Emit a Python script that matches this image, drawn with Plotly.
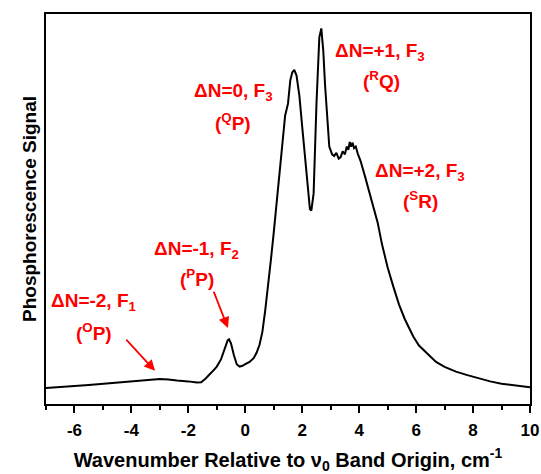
import plotly.graph_objects as go

wavenumber = [-7.0, -6.5, -6.0, -5.5, -5.0, -4.5, -4.0, -3.5, -3.0, -2.7, -2.4, -2.0, -1.7, -1.55,
              -1.4, -1.2, -1.0, -0.85, -0.72, -0.62, -0.57, -0.5, -0.4, -0.3, -0.2, -0.1, 0.0,
              0.15, 0.3, 0.4, 0.5, 0.6, 0.7, 0.8, 0.9, 1.0, 1.1, 1.2, 1.3, 1.4, 1.5, 1.58, 1.65,
              1.72, 1.8, 1.9, 2.0, 2.1, 2.2, 2.27, 2.32, 2.4, 2.5, 2.6, 2.67, 2.74, 2.8, 2.87,
              2.95, 3.05, 3.12, 3.2, 3.28, 3.35, 3.42, 3.5, 3.56, 3.62, 3.67, 3.72, 3.77, 3.82,
              3.88, 3.95, 4.05, 4.2, 4.35, 4.5, 4.65, 4.8, 5.0, 5.2, 5.4, 5.6, 5.9, 6.1, 6.4, 6.7,
              7.0, 7.4, 7.8, 8.2, 8.6, 9.0, 9.5, 10.0]
signal = [0.041, 0.043, 0.046, 0.049, 0.052, 0.055, 0.058, 0.062, 0.064, 0.063, 0.060, 0.058,
          0.055, 0.056, 0.065, 0.080, 0.096, 0.115, 0.140, 0.163, 0.166, 0.155, 0.125, 0.102,
          0.096, 0.098, 0.102, 0.108, 0.118, 0.132, 0.152, 0.185, 0.240, 0.300, 0.370, 0.440,
          0.515, 0.590, 0.665, 0.740, 0.770, 0.830, 0.850, 0.857, 0.842, 0.790, 0.710, 0.625,
          0.545, 0.500, 0.496, 0.540, 0.770, 0.940, 0.963, 0.905, 0.820, 0.730, 0.660, 0.640,
          0.636, 0.644, 0.629, 0.633, 0.648, 0.640, 0.660, 0.652, 0.672, 0.660, 0.670, 0.656,
          0.660, 0.642, 0.623, 0.585, 0.545, 0.506, 0.465, 0.410, 0.350, 0.301, 0.255, 0.218,
          0.173, 0.150, 0.128, 0.108, 0.095, 0.083, 0.074, 0.065, 0.058, 0.052, 0.047, 0.043]

tick_vals = [-6, -4, -2, 0, 2, 4, 6, 8, 10]
tick_text = ["-6", "-4", "-2", "0", "2", "4", "6", "8", "10"]

labels = ["ΔN=0, F<sub>3</sub>", "(<sup>Q</sup>P)",
          "ΔN=+1, F<sub>3</sub>", "(<sup>R</sup>Q)",
          "ΔN=+2, F<sub>3</sub>", "(<sup>S</sup>R)",
          "ΔN=-1, F<sub>2</sub>", "(<sup>P</sup>P)",
          "ΔN=-2, F<sub>1</sub>", "(<sup>O</sup>P)"]
label_x = [-0.40, -0.43, 4.73, 4.77, 6.14, 6.14, -1.70, -1.70, -5.31, -5.31]
label_y = [0.80, 0.723, 0.903, 0.831, 0.595, 0.523, 0.395, 0.323, 0.262, 0.185]

# arrows: (head_x, head_y, tail_x, tail_y)
arrows = [(-0.61, 0.195, -1.13, 0.292), (-3.17, 0.085, -4.23, 0.169)]

FONT = "Liberation Sans, Arial, sans-serif"

fig = go.Figure()
fig.add_trace(go.Scatter(x=wavenumber, y=signal, mode="lines",
                         line=dict(color="black", width=2), showlegend=False))

for t, x, y in zip(labels, label_x, label_y):
    fig.add_annotation(x=x, y=y, xref="x", yref="y", text=t, showarrow=False,
                       font=dict(family=FONT, size=19, color="#ff0000", weight="bold"))

for hx, hy, tx, ty in arrows:
    fig.add_annotation(x=hx, y=hy, ax=tx, ay=ty, xref="x", yref="y", axref="x", ayref="y",
                       text="", showarrow=True, arrowhead=2, arrowsize=1.2, arrowwidth=1.8,
                       arrowcolor="#ff0000")

fig.update_layout(
    width=541, height=474,
    margin=dict(l=46, r=11, t=14, b=70),
    paper_bgcolor="white", plot_bgcolor="white",
    font=dict(family=FONT, color="black"),
    xaxis=dict(range=[-7, 10], tickvals=tick_vals, ticktext=tick_text, automargin=False,
               ticks="outside", ticklen=7, tickwidth=1.5, tickcolor="black",
               ticklabelstandoff=3,
               minor=dict(ticks="outside", dtick=1, tick0=-7, ticklen=4, tickwidth=1.5, tickcolor="black"),
               showline=True, linecolor="black", linewidth=1.5, mirror=True,
               showgrid=False, zeroline=False,
               tickfont=dict(family=FONT, size=17, color="black", weight="bold"),
               title=dict(text="Wavenumber Relative to ν<sub>0</sub> Band Origin, cm<sup>-1</sup>",
                          font=dict(family=FONT, size=20, color="black", weight="bold"),
                          standoff=20)),
    yaxis=dict(range=[0, 1], showticklabels=False, ticks="", automargin=False,
               showline=True, linecolor="black", linewidth=1.5, mirror=True,
               showgrid=False, zeroline=False,
               title=dict(text="Phosphorescence Signal",
                          font=dict(family=FONT, size=19, color="black", weight="bold"),
                          standoff=3)),
)

fig.write_html("out.html")
